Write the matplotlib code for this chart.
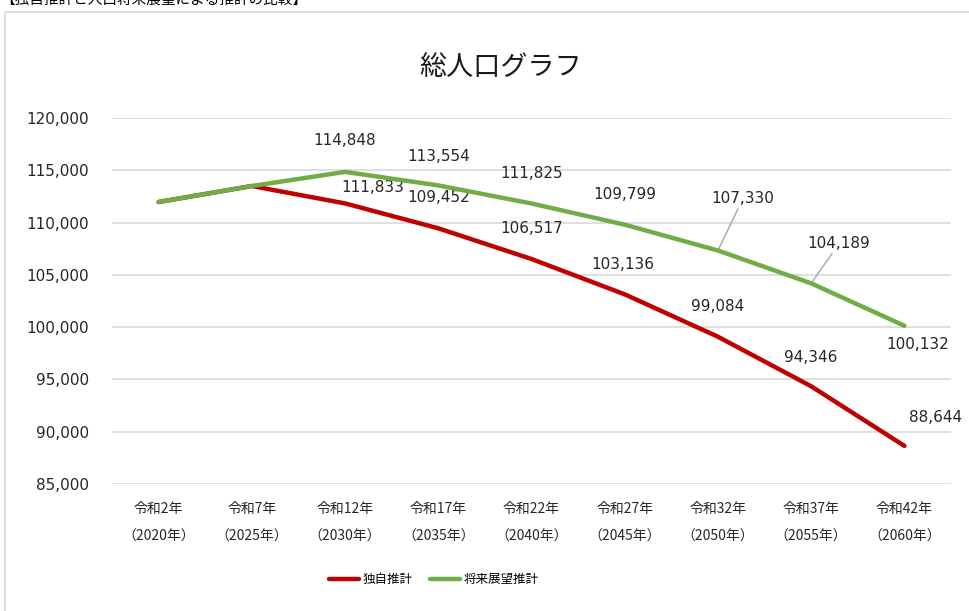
import matplotlib
matplotlib.use("Agg")
import matplotlib.pyplot as plt
from matplotlib.patches import Rectangle
from matplotlib.ticker import FuncFormatter

cjk = ['Noto Sans CJK JP', 'DejaVu Sans']

# data
periods = ['令和2年', '令和7年', '令和12年', '令和17年', '令和22年',
           '令和27年', '令和32年', '令和37年', '令和42年']
years = ['2020', '2025', '2030', '2035', '2040', '2045', '2050', '2055', '2060']
dokuji = [111967, 113497, 111833, 109452, 106517, 103136, 99084, 94346, 88644]
shorai = [111967, 113497, 114848, 113554, 111825, 109799, 107330, 104189, 100132]
series_names = ['独自推計', '将来展望推計']

# label offsets in pixels (first two points have no label)
red_off = [None, None, (28, 16), (0, 31), (0, 30), (-2, 30), (0, 30), (0, 29), (31, 28)]
green_off = [None, None, (0, 31), (0, 29), (0, 30), (0, 30), (25, 52), (28, 40), (13, -19)]
green_leader = [False] * 6 + [True, True, False]

fig = plt.figure(figsize=(9.69, 6.11), dpi=100)

# chart frame (runs off the picture to the right/bottom)
fig.patches.append(Rectangle((5 / 969, -0.05), 1.1, 1 - 12 / 611 + 0.05,
                             transform=fig.transFigure, fill=False,
                             edgecolor='#d9d9d9', lw=1.2))
fig.text(0.0, 1 - 4 / 611, '【独自推計と人口将来展望による推計の比較】',
         family=cjk, fontsize=10.5, ha='left', va='baseline')
fig.text(0.517, 0.89, '総人口グラフ', family=cjk, fontsize=19.5,
         ha='center', va='center', color='#1a1a1a')

ax = fig.add_axes([112 / 969, 1 - 484 / 611, 839 / 969, 366 / 611])
x = list(range(len(periods)))
ax.plot(x, dokuji, color='#C00000', lw=3.2, solid_capstyle='round',
        solid_joinstyle='round', label=series_names[0], zorder=3)
ax.plot(x, shorai, color='#70AD47', lw=3.2, solid_capstyle='round',
        solid_joinstyle='round', label=series_names[1], zorder=4)

ax.set_xlim(-0.5, len(periods) - 0.5)
ax.set_ylim(85000, 120000)
ax.set_yticks(range(85000, 120001, 5000))
ax.yaxis.set_major_formatter(FuncFormatter(lambda v, p: f'{int(v):,}'))
ax.set_xticks(x)
ax.set_xticklabels([f'{p}\n（{y}年）' for p, y in zip(periods, years)],
                   family=cjk, fontsize=10, linespacing=2.2)
ax.tick_params(axis='both', length=0, colors='#262626')
ax.tick_params(axis='x', pad=13)
ax.tick_params(axis='y', pad=16.5, labelsize=11)
for s in ax.spines.values():
    s.set_visible(False)
ax.grid(axis='y', color='#d9d9d9', lw=1.2)
ax.set_axisbelow(True)

for i, v in enumerate(dokuji):
    if red_off[i] is None:
        continue
    ax.annotate(f'{v:,}', (i, v), xytext=red_off[i], textcoords='offset pixels',
                ha='center', va='center', fontsize=11, color='#262626')
for i, v in enumerate(shorai):
    if green_off[i] is None:
        continue
    arrow = dict(arrowstyle='-', color='#a6a6a6', lw=1, shrinkA=0, shrinkB=0) if green_leader[i] else None
    ax.annotate(f'{v:,}', (i, v), xytext=green_off[i], textcoords='offset pixels',
                ha='center', va='center', fontsize=11, color='#262626',
                arrowprops=arrow)

fig.legend(loc='center', bbox_to_anchor=(0.448, 0.051), ncol=2, frameon=False,
           prop={'family': cjk, 'size': 9}, handlelength=2.4,
           columnspacing=1.4, handletextpad=0.3)

fig.savefig('out.png', dpi=100)
